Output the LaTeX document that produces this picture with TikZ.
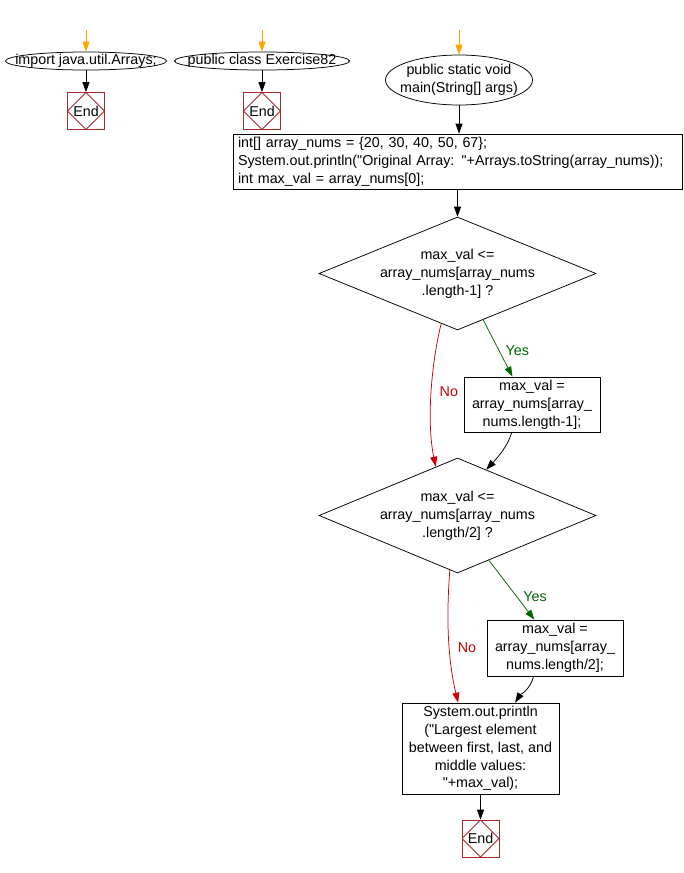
\documentclass[tikz,border=0pt]{standalone}
\usepackage{fontspec}
\setmainfont{Liberation Sans}[Ligatures=TeXOff]
\usetikzlibrary{shapes.geometric,arrows.meta,calc}
\definecolor{endred}{HTML}{A52A2A}
\definecolor{yesgreen}{HTML}{006600}
\definecolor{nored}{HTML}{CC0000}
\definecolor{startorange}{HTML}{FFA500}
\tikzset{
  lw/.style={line width=0.75pt},
  txt/.style={font=\fontsize{14.3}{17.8}\selectfont, inner sep=0pt},
  term/.style={ellipse, draw, lw, inner sep=0pt},
  proc/.style={rectangle, draw, lw, txt, align=center},
  dec/.style={diamond, draw, lw, inner sep=0pt},
  endbox/.style={rectangle, draw=endred, lw, minimum width=37pt, minimum height=37pt, txt,
    path picture={\draw[endred, lw] (path picture bounding box.north) -- (path picture bounding box.east) -- (path picture bounding box.south) -- (path picture bounding box.west) -- cycle;}},
  arr/.style={-{Triangle[length=10pt,width=7pt]}, lw},
  startarr/.style={arr, draw=startorange, -{Triangle[length=10pt,width=7pt,fill=startorange]}},
  yes/.style={arr, draw=yesgreen, -{Triangle[length=10pt,width=7pt,fill=yesgreen]}},
  no/.style={arr, draw=nored, -{Triangle[length=10pt,width=7pt,fill=nored]}},
  lab/.style={txt},
}
\begin{document}
\begin{tikzpicture}[x=1pt,y=-1pt]
\useasboundingbox (0,0) rectangle (683,873);
% terminals
\node[term, minimum width=161pt, minimum height=18pt, label={[txt]center:import java.util.Arrays;}] (e1) at (86,61) {};
\node[term, minimum width=175pt, minimum height=18pt, label={[txt]center:public class Exercise82}] (e2) at (262,61) {};
\node[term, minimum width=147pt, minimum height=50pt, label={[txt, align=center]center:public static void\\main(String[] args)}] (e3) at (459,80) {};
\coordinate (s1) at (86,30);
\coordinate (s2) at (262,30);
\coordinate (s3) at (459,30);
\node[endbox] (end1) at (86,111) {End};
\node[endbox] (end2) at (262,111) {End};
% process
\node[proc, minimum width=449pt, minimum height=55pt, text width=439pt, align=left] (r1) at (457.5,161.5)
 {int[] array\_nums = \{20, 30, 40, 50, 67\};\\System.out.println("Original Array: "+Arrays.toString(array\_nums));\\int max\_val = array\_nums[0];};
\node[dec, minimum width=277pt, minimum height=113pt, label={[txt, align=center]center:max\_val <=\\array\_nums[array\_nums\\.length-1] ?}] (d1) at (457.5,273.5) {};
\node[proc, minimum width=136pt, minimum height=55pt] (r2) at (532,404.5) {max\_val =\\array\_nums[array\_\\nums.length-1];};
\node[dec, minimum width=277pt, minimum height=115pt, label={[txt, align=center]center:max\_val <=\\array\_nums[array\_nums\\.length/2] ?}] (d2) at (457.5,515.5) {};
\node[proc, minimum width=136pt, minimum height=56pt] (r3) at (555,648) {max\_val =\\array\_nums[array\_\\nums.length/2];};
\node[proc, minimum width=157pt, minimum height=91pt] (r4) at (480.5,748.5) {System.out.println\\("Largest element\\between first, last, and\\middle values:\\"+max\_val);};
\node[endbox] (end3) at (480.5,838.5) {End};
% connectors
\draw[startarr] (s1) -- (e1.north);
\draw[startarr] (s2) -- (e2.north);
\draw[startarr] (s3) -- (e3.north);
\draw[arr] (e1.south) -- (end1.north);
\draw[arr] (e2.south) -- (end2.north);
\draw[arr] (e3.south) -- (r1.north -| e3.south);
\draw[arr] (r1.south -| d1.north) -- (d1.north);
\draw[yes] (d1.299) -- (r2.125) node[lab, text=yesgreen, pos=0.55, right=6pt] {Yes};
\draw[no] (d1.252) .. controls (432,360) and (426,420) .. (d2.114) node[lab, text=nored, pos=0.5, right=8pt] {No};
\draw[arr] (r2.234) .. controls (508,445) and (500,455) .. (d2.58);
\draw[yes] (d2.305) -- (r3.126) node[lab, text=yesgreen, pos=0.62, right=6pt] {Yes};
\draw[no] (d2.262) .. controls (446,620) and (448,660) .. (r4.116) node[lab, text=nored, pos=0.57, right=8pt] {No};
\draw[arr] (r3.233) .. controls (530,690) and (520,695) .. (r4.53);
\draw[arr] (r4.south -| end3.north) -- (end3.north);
\end{tikzpicture}
\end{document}
